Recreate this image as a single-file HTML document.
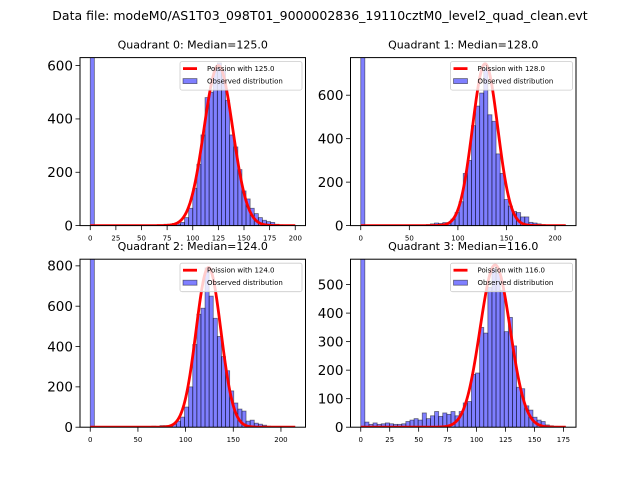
<!DOCTYPE html>
<html><head><meta charset="utf-8"><style>
body{margin:0;background:#fff}
svg{display:block;font-family:"DejaVu Sans","Liberation Sans",sans-serif}
</style></head><body>
<svg id="fig" width="640" height="480" viewBox="0 0 640 480">
<text x="320" y="20" text-anchor="middle" font-size="12.5">Data file: modeM0/AS1T03_098T01_9000002836_19110cztM0_level2_quad_clean.evt</text>
</svg>
<script>
// ---- data ----
const quadNames = ["Quadrant 0", "Quadrant 1", "Quadrant 2", "Quadrant 3"];
const medians = [125.0, 128.0, 124.0, 116.0];
const dataMax = [200, 211, 215, 177];
const yMax = [630, 773, 833, 589];
const yTicks0 = [0, 200, 400, 600];
const yTicks1 = [0, 200, 400, 600];
const yTicks2 = [0, 200, 400, 600, 800];
const yTicks3 = [0, 100, 200, 300, 400, 500];
const xTicks0 = [0, 25, 50, 75, 100, 125, 150, 175, 200];
const xTicks1 = [0, 50, 100, 150, 200];
const xTicks2 = [0, 50, 100, 150, 200];
const xTicks3 = [0, 25, 50, 75, 100, 125, 150, 175];
const curvePeak = [600, 745, 792, 569];
const curveSigma = [14, 13, 13, 13];
const counts0 = [3000,0,0,0,0,0,0,0,0,0,0,0,0,0,0,0,1,2,5,5,8,6,12,30,65,140,230,340,480,500,590,610,580,470,340,295,210,130,100,65,45,30,20,15,12,5,3,2,1,0];
const counts1 = [3000,0,0,0,0,0,0,0,0,0,0,0,0,0,2,3,5,8,12,10,14,12,30,60,110,240,300,460,550,610,720,510,480,330,240,120,90,65,60,40,40,15,12,8,5,3,1,1,0,0];
const counts2 = [3000,0,0,0,0,0,0,0,0,0,0,0,0,0,0,5,3,8,8,5,15,30,50,100,200,410,560,590,790,650,540,450,350,280,180,120,90,80,30,35,20,15,10,5,3,1,0,0,0,0];
const counts3 = [3000,18,10,15,10,12,15,12,10,10,12,20,25,30,25,50,30,40,55,38,50,45,55,40,55,85,90,185,190,350,330,490,555,540,480,335,385,285,140,135,75,60,35,25,20,8,5,3,1,1];
const allCounts = [counts0, counts1, counts2, counts3];
const allYTicks = [yTicks0, yTicks1, yTicks2, yTicks3];
const allXTicks = [xTicks0, xTicks1, xTicks2, xTicks3];

const NS = "http://www.w3.org/2000/svg";
const svg = document.getElementById("fig");
function mk(tag, attrs, parent) {
  const e = document.createElementNS(NS, tag);
  for (const k in attrs) e.setAttribute(k, attrs[k]);
  (parent || svg).appendChild(e);
  return e;
}
const boxes = [
  {l: 80, r: 305.5, t: 57.6, b: 225.6},
  {l: 350.5, r: 576, t: 57.6, b: 225.6},
  {l: 80, r: 305.5, t: 259.2, b: 427.2},
  {l: 350.5, r: 576, t: 259.2, b: 427.2}
];
for (let q = 0; q < 4; q++) {
  const B = boxes[q];
  const span = dataMax[q];
  const x0 = -0.05 * span, x1 = span * 1.05;
  const xs = v => B.l + (v - x0) / (x1 - x0) * (B.r - B.l);
  const ys = v => B.b - v / yMax[q] * (B.b - B.t);
  const g = mk("g", {});
  
  
  const cp = mk("clipPath", {id: "cp" + q}, g);
  mk("rect", {x: B.l, y: B.t, width: B.r - B.l, height: B.b - B.t}, cp);
  const plot = mk("g", {"clip-path": "url(#cp" + q + ")"}, g);
  const counts = allCounts[q];
  const bw = span / counts.length;
  counts.forEach((c, i) => {
    const xa = xs(i * bw), xb = xs((i + 1) * bw);
    const r = mk("rect", {x: xa, y: ys(c), width: xb - xa, height: B.b - ys(c) + 2,
      fill: "rgba(0,0,255,0.5)", stroke: "rgba(0,0,0,0.5)", "stroke-width": 0.8}, plot);
    
    
  });
  let d = "";
  for (let k = 0; k <= 300; k++) {
    const v = span * k / 300;
    const yv = curvePeak[q] * Math.exp(-Math.pow(v - medians[q], 2) / (2 * curveSigma[q] * curveSigma[q]));
    d += (k ? "L" : "M") + xs(v).toFixed(2) + " " + ys(yv).toFixed(2);
  }
  const pl = mk("path", {d: d, fill: "none", stroke: "#ff0000", "stroke-width": 2.8}, plot);
  
  
  mk("rect", {x: B.l, y: B.t, width: B.r - B.l, height: B.b - B.t, fill: "none", stroke: "#000", "stroke-width": 1}, g);
  allYTicks[q].forEach(t => {
    mk("line", {x1: B.l - 4.5, x2: B.l, y1: ys(t), y2: ys(t), stroke: "#000", "stroke-width": 0.8}, g);
    const tx = mk("text", {x: B.l - 7, y: ys(t) + 4.8, "text-anchor": "end", "font-size": 13.5}, g);
    tx.textContent = t;
    
    
  });
  allXTicks[q].forEach(t => {
    mk("line", {x1: xs(t), x2: xs(t), y1: B.b, y2: B.b + 4.5, stroke: "#000", "stroke-width": 0.8}, g);
    const tx = mk("text", {x: xs(t), y: B.b + 15, "text-anchor": "middle", "font-size": 7}, g);
    tx.textContent = t;
    
    
  });
  const tt = mk("text", {x: (B.l + B.r) / 2, y: B.t - 9, "text-anchor": "middle", "font-size": 11}, g);
  tt.textContent = quadNames[q] + ": Median=" + medians[q].toFixed(1);
  
  
  const lg = mk("g", {}, g);
  
  
  const lx = B.r - 125.5, ly = B.t + 4;
  mk("rect", {x: lx, y: ly, width: 122, height: 28.5, rx: 2, fill: "rgba(255,255,255,0.8)", stroke: "#ccc", "stroke-width": 0.8}, lg);
  mk("line", {x1: lx + 3, x2: lx + 17, y1: ly + 7, y2: ly + 7, stroke: "#f00", "stroke-width": 2.8}, lg);
  const t1 = mk("text", {x: lx + 27, y: ly + 9.5, "font-size": 7}, lg);
  t1.textContent = "Poission with " + medians[q].toFixed(1);
  mk("rect", {x: lx + 3, y: ly + 17, width: 14, height: 5, fill: "rgba(0,0,255,0.5)", stroke: "rgba(0,0,0,0.5)", "stroke-width": 0.8}, lg);
  const t2 = mk("text", {x: lx + 27, y: ly + 22, "font-size": 7}, lg);
  t2.textContent = "Observed distribution";
}
</script>
</body></html>
